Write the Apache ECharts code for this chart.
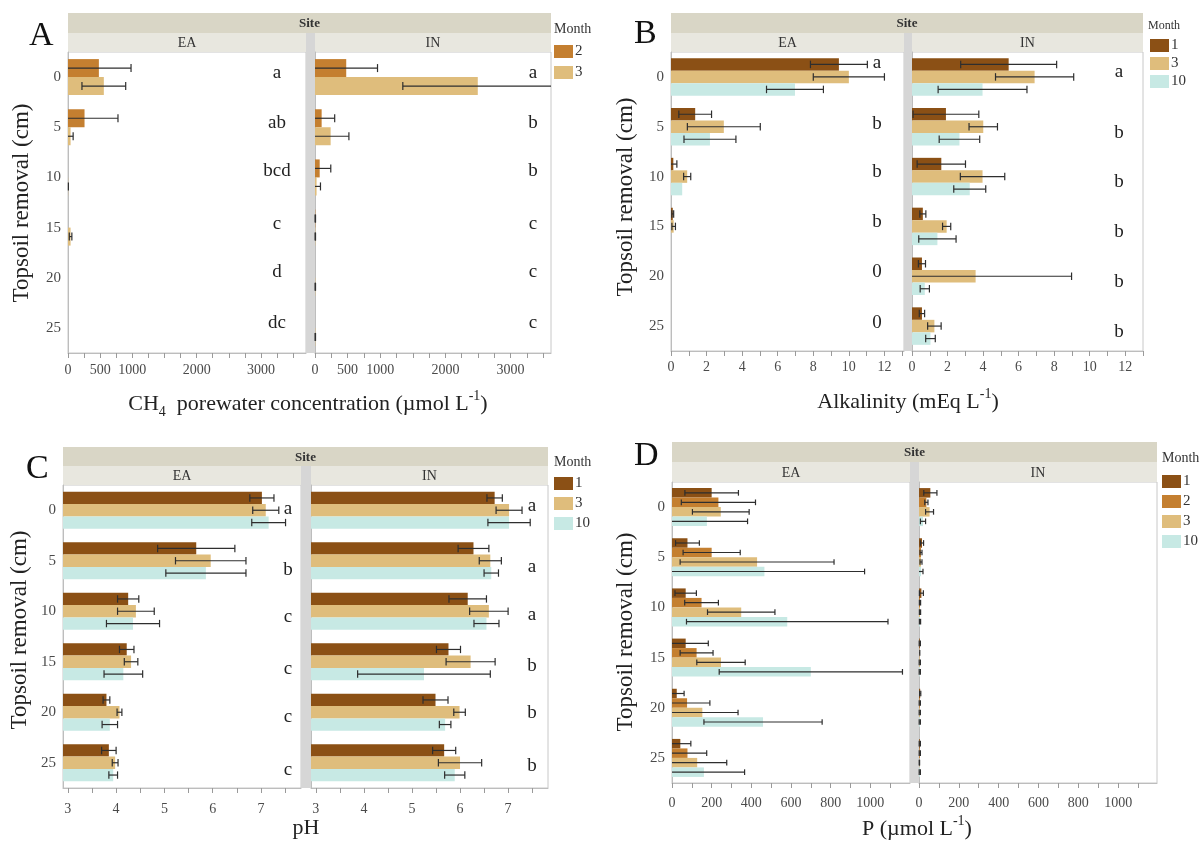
<!DOCTYPE html>
<html>
<head>
<meta charset="utf-8">
<script src="https://cdn.jsdelivr.net/npm/echarts@6/dist/echarts.min.js"></script>
<style>
  html, body { margin: 0; padding: 0; background: #fff; }
  #main { width: 1201px; height: 842px; }
</style>
</head>
<body>
<div id="main"></div>
<script>
// ---- data ----
const depths = ['0', '5', '10', '15', '20', '25'];

// A: CH4 porewater concentration (umol/L), months 2 and 3
const chMonths = ['2', '3'];
const chEA2 = [480, 257, 0, 0, 0, 0];
const chEA2Err = [500, 520, 0, 0, 0, 0];
const chEA3 = [557, 40, 3, 40, 0, 0];
const chEA3Err = [340, 40, 3, 20, 0, 0];
const chIN2 = [479, 102, 72, 5, 0, 0];
const chIN2Err = [480, 200, 170, 3, 0, 0];
const chIN3 = [2497, 240, 24, 5, 5, 5];
const chIN3Err = [1150, 280, 60, 3, 3, 3];
const chLettersEA = ['a', 'ab', 'bcd', 'c', 'd', 'dc'];
const chLettersIN = ['a', 'b', 'b', 'c', 'c', 'c'];
const chLabels = [0, 500, 1000, 2000, 3000];
const chTicks = [0, 250, 500, 750, 1000, 1250, 1500, 1750, 2000, 2250, 2500, 2750, 3000, 3250, 3500];

// B: alkalinity (mEq/L), months 1, 3, 10
const alkMonths = ['1', '3', '10'];
const alkEA1 = [9.44, 1.36, 0.13, 0.1, 0, 0];
const alkEA1Err = [1.6, 0.92, 0.2, 0.05, 0, 0];
const alkEA3 = [10.0, 2.97, 0.91, 0.15, 0, 0];
const alkEA3Err = [2.0, 2.05, 0.2, 0.1, 0, 0];
const alkEA10 = [6.97, 2.19, 0.63, 0, 0, 0];
const alkEA10Err = [1.6, 1.46, 0, 0, 0, 0];
const alkIN1 = [5.44, 1.91, 1.65, 0.61, 0.56, 0.56];
const alkIN1Err = [2.7, 1.85, 1.36, 0.17, 0.2, 0.15];
const alkIN3 = [6.9, 4.01, 3.97, 1.95, 3.58, 1.26];
const alkIN3Err = [2.2, 0.8, 1.25, 0.23, 5.4, 0.38];
const alkIN10 = [3.97, 2.67, 3.25, 1.43, 0.72, 1.04];
const alkIN10Err = [2.5, 1.14, 0.9, 1.05, 0.26, 0.27];
const alkLettersEA = ['a', 'b', 'b', 'b', '0', '0'];
const alkLettersIN = ['a', 'b', 'b', 'b', 'b', 'b'];
const alkLabels = [0, 2, 4, 6, 8, 10, 12];
const alkTicks = [0, 1, 2, 3, 4, 5, 6, 7, 8, 9, 10, 11, 12, 13];

// C: pH, months 1, 3, 10
const phMonths = ['1', '3', '10'];
const phEA1 = [7.02, 5.66, 4.25, 4.22, 3.80, 3.85];
const phEA1Err = [0.25, 0.8, 0.22, 0.15, 0.07, 0.15];
const phEA3 = [7.10, 5.96, 4.41, 4.31, 4.07, 3.98];
const phEA3Err = [0.27, 0.73, 0.38, 0.14, 0.05, 0.06];
const phEA10 = [7.16, 5.86, 4.35, 4.15, 3.87, 3.94];
const phEA10Err = [0.35, 0.83, 0.55, 0.4, 0.16, 0.09];
const phIN1 = [6.72, 6.28, 6.16, 5.76, 5.49, 5.67];
const phIN1Err = [0.16, 0.32, 0.39, 0.25, 0.26, 0.24];
const phIN3 = [7.02, 6.63, 6.60, 6.22, 5.99, 6.0];
const phIN3Err = [0.27, 0.23, 0.4, 0.51, 0.12, 0.45];
const phIN10 = [7.02, 6.65, 6.55, 5.25, 5.69, 5.89];
const phIN10Err = [0.44, 0.15, 0.26, 1.38, 0.12, 0.21];
const phLettersEA = ['a', 'b', 'c', 'c', 'c', 'c'];
const phLettersIN = ['a', 'a', 'a', 'b', 'b', 'b'];
const phLabels = [3, 4, 5, 6, 7];
const phTicks = [3, 3.5, 4, 4.5, 5, 5.5, 6, 6.5, 7, 7.5];

// D: P (umol/L), months 1, 2, 3, 10
const pMonths = ['1', '2', '3', '10'];
const pEA1 = [200, 78, 69, 69, 24, 42];
const pEA1Err = [135, 60, 54, 114, 37, 53];
const pEA2 = [234, 200, 149, 124, 76, 78];
const pEA2Err = [187, 144, 85, 83, 115, 97];
const pEA3 = [246, 429, 349, 247, 153, 127];
const pEA3Err = [143, 388, 170, 122, 180, 149];
const pEA10 = [176, 466, 581, 700, 459, 161];
const pEA10Err = [205, 505, 508, 462, 298, 205];
const pIN1 = [57, 15, 12, 4, 6, 4];
const pIN1Err = [33, 8, 10, 3, 3, 3];
const pIN2 = [37, 10, 5, 2, 4, 4];
const pIN2Err = [8, 5, 3, 2, 3, 3];
const pIN3 = [53, 10, 5, 4, 4, 2];
const pIN3Err = [20, 5, 3, 3, 3, 1];
const pIN10 = [20, 10, 5, 4, 4, 4];
const pIN10Err = [13, 10, 3, 3, 3, 3];
const pLabels = [0, 200, 400, 600, 800, 1000];
const pTicks = [0, 100, 200, 300, 400, 500, 600, 700, 800, 900, 1000, 1100];

// ---- styling ----
const SERIF = 'Liberation Serif';
const COLORS = { '1': '#8b5015', '2': '#c47f30', '3': '#dfbd7c', '10': '#c7e9e4' };
const SITE_BG = '#d9d6c6';
const SUB_BG = '#e8e7df';
const GAP_BG = '#d6d6d6';

const option = {
    animation: false,
    backgroundColor: '#fff',
    grid: [], xAxis: [], yAxis: [], series: [], legend: [], graphic: []
};

function addFacet(g) {
    const idx = option.grid.length;
    option.grid.push({
        left: g.box[0], top: g.box[1], width: g.box[2], height: g.box[3],
        show: true, borderColor: '#c8c8c8', borderWidth: 1, backgroundColor: '#fff'
    });
    option.xAxis.push({
        type: 'value', gridIndex: idx, min: g.min, max: g.max,
        axisLine: { show: true, onZero: false, lineStyle: { color: '#bdbdbd' } },
        axisTick: { show: true, length: 5, customValues: g.ticks, lineStyle: { color: '#9a9a9a' } },
        axisLabel: { customValues: g.labels, formatter: (v) => String(v), fontFamily: SERIF, fontSize: 14, color: '#4a4a4a', margin: g.labelMargin },
        splitLine: { show: false }
    });
    option.yAxis.push({
        type: 'category', gridIndex: idx, data: depths, inverse: true,
        axisLine: { show: true, lineStyle: { color: '#bdbdbd' } },
        axisTick: { show: false },
        axisLabel: { show: g.showY, fontFamily: SERIF, fontSize: 15, color: '#4a4a4a', margin: 7 }
    });
    const n = g.months.length;
    g.months.forEach((m, i) => {
        option.series.push({
            type: 'bar', name: m, xAxisIndex: idx, yAxisIndex: idx,
            data: g.values[i], barWidth: g.barWidth, barGap: '0%', clip: true,
            itemStyle: { color: COLORS[m] }, silent: true
        });
    });
    // error bars
    g.months.forEach((m, i) => {
        const off = (i - (n - 1) / 2) * g.barWidth;
        const vals = g.values[i], errs = g.errs[i];
        option.series.push({
            type: 'custom', xAxisIndex: idx, yAxisIndex: idx, z: 5, silent: true,
            data: vals.map((v, k) => [v, k, errs[k]]),
            encode: { x: 0, y: 1 },
            renderItem: (params, api) => {
                const v = api.value(0), k = api.value(1), e = api.value(2);
                if (!(e > 0)) return;
                const lo = Math.max(v - e, g.min), hi = Math.min(v + e, g.max);
                const p1 = api.coord([lo, k]), p2 = api.coord([hi, k]);
                const y = p1[1] + off;
                const c = Math.min(g.barWidth * 0.3, 4);
                const st = { stroke: '#2e2e2e', lineWidth: 1.2 };
                const kids = [{ type: 'line', shape: { x1: p1[0], y1: y, x2: p2[0], y2: y }, style: st }];
                if (v - e > g.min) kids.push({ type: 'line', shape: { x1: p1[0], y1: y - c, x2: p1[0], y2: y + c }, style: st });
                if (v + e < g.max) kids.push({ type: 'line', shape: { x1: p2[0], y1: y - c, x2: p2[0], y2: y + c }, style: st });
                return { type: 'group', children: kids };
            }
        });
    });
    // significance letters
    if (g.letters) {
        option.series.push({
            type: 'custom', xAxisIndex: idx, yAxisIndex: idx, z: 6, silent: true,
            data: g.letters.map((t, k) => [g.min, k]),
            encode: { x: 0, y: 1 },
            renderItem: (params, api) => {
                const cs = params.coordSys;
                const p = api.coord([g.min, api.value(1)]);
                return {
                    type: 'text',
                    x: cs.x + cs.width - g.letterRight,
                    y: p[1] + g.letterDy[params.dataIndex],
                    style: {
                        text: g.letters[params.dataIndex], fontFamily: SERIF, fontSize: 19, fill: '#222',
                        textAlign: 'center', textVerticalAlign: 'middle'
                    }
                };
            }
        });
    }
}

function addFrame(f) {
    // Site header, EA / IN headers, grey gap between facets
    option.graphic.push(
        { type: 'rect', shape: { x: f.site[0], y: f.site[1], width: f.site[2], height: f.site[3] }, style: { fill: SITE_BG }, silent: true },
        { type: 'text', x: f.site[0] + f.site[2] / 2, y: f.site[1] + f.site[3] / 2 + 1,
          style: { text: 'Site', fontFamily: SERIF, fontWeight: 'bold', fontSize: 13, fill: '#333', textAlign: 'center', textVerticalAlign: 'middle' } },
        { type: 'rect', shape: { x: f.ea[0], y: f.ea[1], width: f.ea[2], height: f.ea[3] }, style: { fill: SUB_BG }, silent: true },
        { type: 'text', x: f.ea[0] + f.ea[2] / 2, y: f.ea[1] + f.ea[3] / 2 + 1,
          style: { text: 'EA', fontFamily: SERIF, fontSize: 14, fill: '#333', textAlign: 'center', textVerticalAlign: 'middle' } },
        { type: 'rect', shape: { x: f.inn[0], y: f.inn[1], width: f.inn[2], height: f.inn[3] }, style: { fill: SUB_BG }, silent: true },
        { type: 'text', x: f.inn[0] + f.inn[2] / 2, y: f.inn[1] + f.inn[3] / 2 + 1,
          style: { text: 'IN', fontFamily: SERIF, fontSize: 14, fill: '#333', textAlign: 'center', textVerticalAlign: 'middle' } },
        { type: 'rect', shape: { x: f.gap[0], y: f.gap[1], width: f.gap[2], height: f.gap[3] }, style: { fill: GAP_BG }, silent: true },
        { type: 'text', x: f.letter[0], y: f.letter[1],
          style: { text: f.name, fontFamily: SERIF, fontSize: 34, fill: '#111', textAlign: 'left', textVerticalAlign: 'middle' } },
        { type: 'text', x: f.ytitle[0], y: f.ytitle[1], rotation: Math.PI / 2,
          style: { text: 'Topsoil removal (cm)', fontFamily: SERIF, fontSize: 23, fill: '#222', textAlign: 'center', textVerticalAlign: 'middle' } },
        { type: 'text', x: f.xtitle[0], y: f.xtitle[1],
          style: { text: f.xtext, fontFamily: SERIF, fontSize: 22, fill: '#222', textAlign: 'center', textVerticalAlign: 'middle', lineHeight: 30,
                   rich: {
                       sub: { fontFamily: SERIF, fontSize: 14, fill: '#222', verticalAlign: 'bottom', lineHeight: 14 },
                       sup: { fontFamily: SERIF, fontSize: 14, fill: '#222', verticalAlign: 'top', lineHeight: 14 }
                   } } },
        { type: 'text', x: f.month[0], y: f.month[1],
          style: { text: 'Month', fontFamily: SERIF, fontSize: f.monthSize, fill: '#333', textAlign: 'left', textVerticalAlign: 'middle' } }
    );
    option.legend.push({
        data: f.months, left: f.legend[0], top: f.legend[1], orient: 'vertical', icon: 'rect',
        itemWidth: 19, itemHeight: 13, itemGap: f.legendGap, selectedMode: false, padding: 0,
        textStyle: { fontFamily: SERIF, fontSize: 15, color: '#333', padding: [0, 0, 0, -3] }
    });
}

// ---- panel A ----
addFrame({ name: 'A', months: chMonths, site: [68, 13, 483, 20], ea: [68, 33, 238, 19], inn: [315, 33, 236, 19], gap: [306, 33, 9, 320],
    letter: [29, 36], ytitle: [22, 203], xtitle: [308, 404], xtext: 'CH{sub|4}  porewater concentration (µmol L{sup|-1})',
    month: [554, 29], monthSize: 14, legend: [554, 44], legendGap: 6 });
addFacet({ box: [68, 52, 238, 301], min: 0, max: 3700, labels: chLabels, ticks: chTicks, labelMargin: 10, showY: true,
    months: chMonths, values: [chEA2, chEA3], errs: [chEA2Err, chEA3Err], barWidth: 18,
    letters: chLettersEA, letterRight: 29, letterDy: [-4, -4, -6, -4, -6, -5] });
addFacet({ box: [315, 52, 236, 301], min: 0, max: 3620, labels: chLabels, ticks: chTicks, labelMargin: 10, showY: false,
    months: chMonths, values: [chIN2, chIN3], errs: [chIN2Err, chIN3Err], barWidth: 18,
    letters: chLettersIN, letterRight: 18, letterDy: [-4, -4, -6, -4, -6, -5] });

// ---- panel B ----
addFrame({ name: 'B', months: alkMonths, site: [671, 13, 472, 20], ea: [671, 33, 233, 19], inn: [912, 33, 231, 19], gap: [904, 33, 8, 318],
    letter: [634, 34], ytitle: [626, 197], xtitle: [908, 402], xtext: 'Alkalinity (mEq L{sup|-1})',
    month: [1148, 26], monthSize: 12, legend: [1150, 38], legendGap: 3 });
addFacet({ box: [671, 52, 233, 299], min: 0, max: 13.1, labels: alkLabels, ticks: alkTicks, labelMargin: 9, showY: true,
    months: alkMonths, values: [alkEA1, alkEA3, alkEA10], errs: [alkEA1Err, alkEA3Err, alkEA10Err], barWidth: 12.5,
    letters: alkLettersEA, letterRight: 27, letterDy: [-14, -3, -5, -4, -4, -3] });
addFacet({ box: [912, 52, 231, 299], min: 0, max: 13.0, labels: alkLabels, ticks: alkTicks, labelMargin: 9, showY: false,
    months: alkMonths, values: [alkIN1, alkIN3, alkIN10], errs: [alkIN1Err, alkIN3Err, alkIN10Err], barWidth: 12.5,
    letters: alkLettersIN, letterRight: 24, letterDy: [-5, 6, 5, 6, 6, 6] });

// ---- panel C ----
addFrame({ name: 'C', months: phMonths, site: [63, 447, 485, 19], ea: [63, 466, 238, 19], inn: [311, 466, 237, 19], gap: [301, 466, 10, 322],
    letter: [26, 469], ytitle: [20, 630], xtitle: [306, 828], xtext: 'pH',
    month: [554, 462], monthSize: 14, legend: [554, 476], legendGap: 5 });
addFacet({ box: [63, 485, 238, 303], min: 2.9, max: 7.83, labels: phLabels, ticks: phTicks, labelMargin: 14, showY: true,
    months: phMonths, values: [phEA1, phEA3, phEA10], errs: [phEA1Err, phEA3Err, phEA10Err], barWidth: 12.3,
    letters: phLettersEA, letterRight: 13, letterDy: [-1, 9, 6, 7, 5, 7] });
addFacet({ box: [311, 485, 237, 303], min: 2.9, max: 7.83, labels: phLabels, ticks: phTicks, labelMargin: 14, showY: false,
    months: phMonths, values: [phIN1, phIN3, phIN10], errs: [phIN1Err, phIN3Err, phIN10Err], barWidth: 12.3,
    letters: phLettersIN, letterRight: 16, letterDy: [-4, 6, 4, 4, 1, 3] });

// ---- panel D ----
addFrame({ name: 'D', months: pMonths, site: [672, 442, 485, 20], ea: [672, 462, 238, 20], inn: [919, 462, 238, 20], gap: [910, 462, 9, 321],
    letter: [634, 456], ytitle: [626, 632], xtitle: [917, 829], xtext: 'P (µmol L{sup|-1})',
    month: [1162, 458], monthSize: 14, legend: [1162, 474], legendGap: 5 });
addFacet({ box: [672, 482, 238, 301], min: 0, max: 1200, labels: pLabels, ticks: pTicks, labelMargin: 13, showY: true,
    months: pMonths, values: [pEA1, pEA2, pEA3, pEA10], errs: [pEA1Err, pEA2Err, pEA3Err, pEA10Err], barWidth: 9.5 });
addFacet({ box: [919, 482, 238, 301], min: 0, max: 1195, labels: pLabels, ticks: pTicks, labelMargin: 13, showY: false,
    months: pMonths, values: [pIN1, pIN2, pIN3, pIN10], errs: [pIN1Err, pIN2Err, pIN3Err, pIN10Err], barWidth: 9.5 });

const chart = echarts.init(document.getElementById('main'), null, { renderer: 'canvas' });
chart.setOption(option);
</script>
</body>
</html>
